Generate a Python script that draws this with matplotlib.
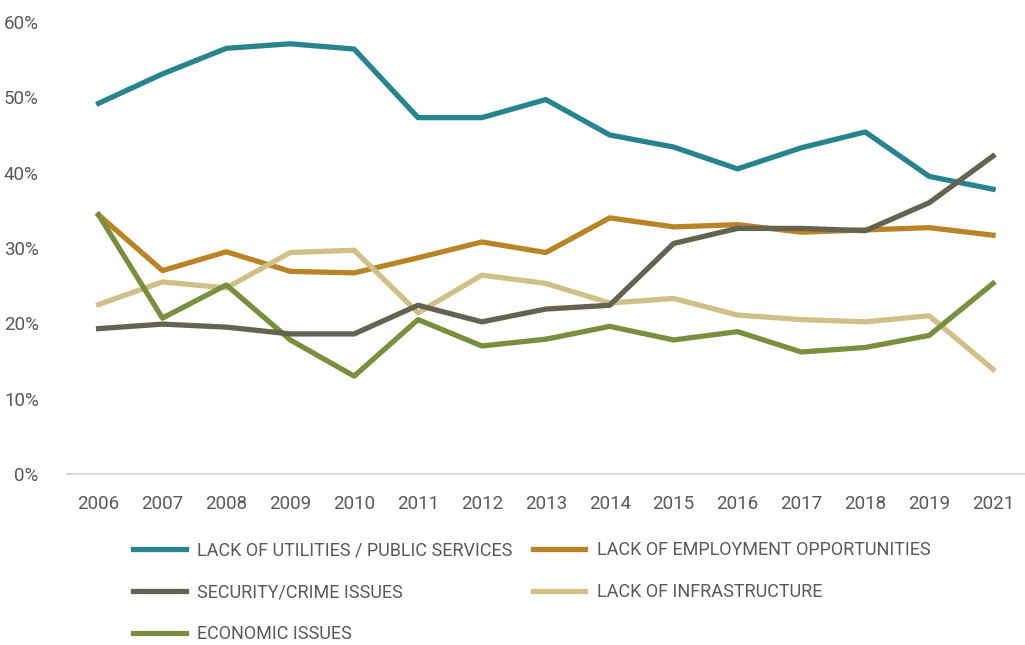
import matplotlib.pyplot as plt

plt.rcParams['font.family'] = ['Roboto', 'DejaVu Sans']

years = ['2006', '2007', '2008', '2009', '2010', '2011', '2012', '2013',
         '2014', '2015', '2016', '2017', '2018', '2019', '2021']

utilities = [49.2, 53.1, 56.5, 57.1, 56.4, 47.3, 47.3, 49.7, 45.0, 43.4, 40.5, 43.3, 45.4, 39.5, 37.8]
employment = [34.4, 27.0, 29.5, 26.9, 26.7, 28.7, 30.8, 29.4, 34.0, 32.8, 33.1, 32.1, 32.4, 32.7, 31.7]
security = [19.3, 19.9, 19.5, 18.6, 18.6, 22.4, 20.2, 21.9, 22.4, 30.6, 32.6, 32.6, 32.3, 36.0, 42.2]
infrastructure = [22.5, 25.5, 24.7, 29.4, 29.7, 21.4, 26.4, 25.3, 22.7, 23.3, 21.1, 20.5, 20.2, 21.0, 13.9]
economic = [34.4, 20.7, 25.1, 17.8, 13.0, 20.5, 17.0, 17.9, 19.6, 17.8, 18.9, 16.2, 16.8, 18.4, 25.3]

fig = plt.figure(figsize=(10.25, 6.45), dpi=100)
ax = fig.add_axes([0.065, 0.265, 0.935, 0.701])

x = range(len(years))
lw = 3.8
l1, = ax.plot(x, utilities, color='#27848F', lw=lw, label='LACK OF UTILITIES / PUBLIC SERVICES')
l2, = ax.plot(x, employment, color='#B98425', lw=lw, label='LACK OF EMPLOYMENT OPPORTUNITIES')
l4, = ax.plot(x, infrastructure, color='#CFC087', lw=lw, label='LACK OF INFRASTRUCTURE')
l5, = ax.plot(x, economic, color='#7A8E3E', lw=lw, label='ECONOMIC ISSUES')
l3, = ax.plot(x, security, color='#646350', lw=lw, label='SECURITY/CRIME ISSUES')

ax.set_xlim(-0.5, len(years) - 0.5)
ax.set_ylim(0, 60)
ax.set_xticks(list(x))
ax.set_xticklabels(years)
ax.set_yticks(range(0, 61, 10))
ax.set_yticklabels([f'{v}%' for v in range(0, 61, 10)])
ax.tick_params(length=0, labelsize=13.5, colors='#595959', pad=15)
ax.tick_params(axis='y', pad=20)

for s in ['top', 'right', 'left']:
    ax.spines[s].set_visible(False)
ax.spines['bottom'].set_color('#D9D9D9')
ax.spines['bottom'].set_linewidth(1.5)

# legend laid out row by row: two columns, three rows
handles = [l1, l3, l5, l2, l4]
leg = fig.legend(handles, [h.get_label() for h in handles],
                 ncol=2, loc='upper left', bbox_to_anchor=(0.13, 0.161),
                 frameon=False, fontsize=13, handlelength=2.9,
                 handletextpad=0.65, columnspacing=1.1, labelspacing=1.33,
                 labelcolor='#595959', borderpad=0, borderaxespad=0)

fig.savefig('out.png', dpi=100)
